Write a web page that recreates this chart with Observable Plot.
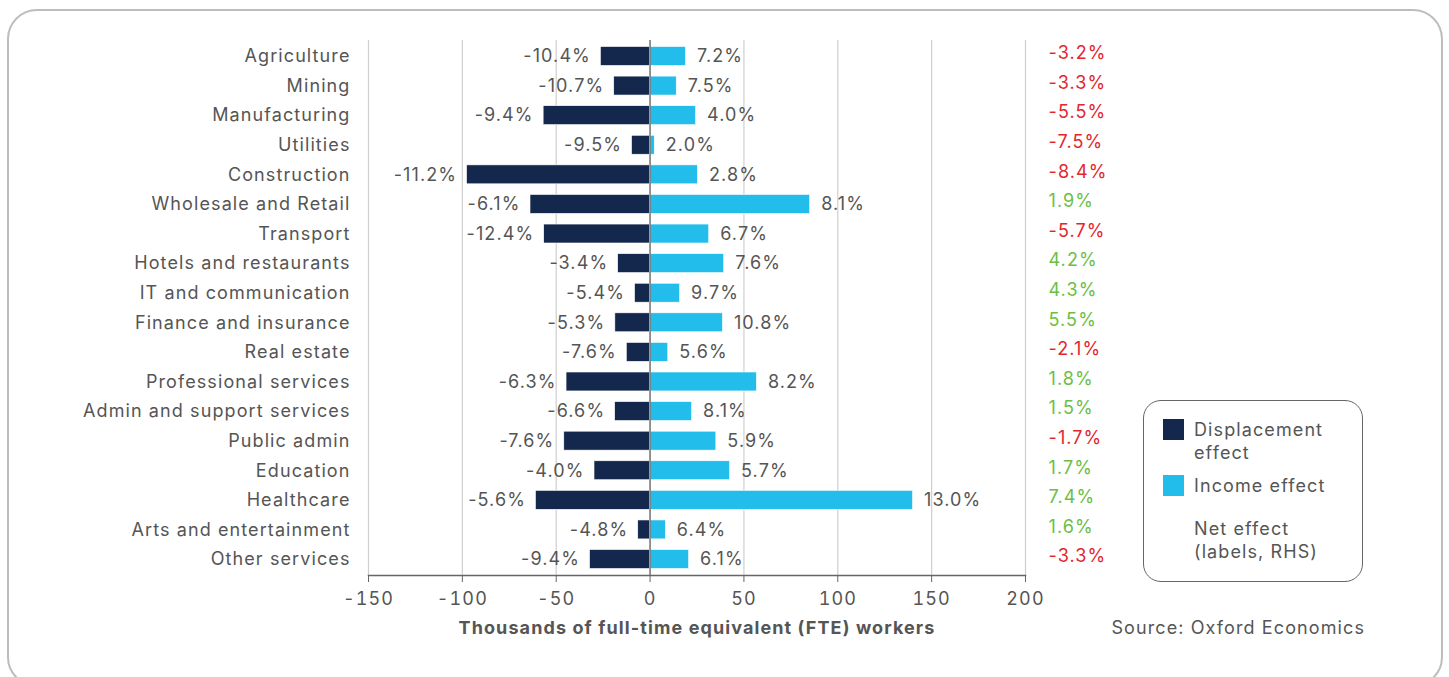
<!DOCTYPE html>
<html>
<head>
<meta charset="utf-8">
<script src="https://cdn.jsdelivr.net/npm/d3@7"></script>
<script src="https://cdn.jsdelivr.net/npm/@observablehq/plot@0.6"></script>
<style>
  html, body { margin: 0; padding: 0; background: #fff; overflow: hidden; }
  body { width: 1449px; height: 677px; position: relative; font-family: Inter, "Noto Sans", sans-serif; color: #555; letter-spacing: 1.1px; }
  #frame { position: absolute; left: 7px; top: 9px; width: 1432px; height: 674px; border: 2px solid #bdbdbd; border-radius: 30px; }
  #chart { position: absolute; left: 0; top: 0; }
  #chart svg text { letter-spacing: 1.1px; }
  #legend { position: absolute; left: 1143px; top: 400px; width: 218px; height: 180px; border: 1.5px solid #666; border-radius: 18px; font-size: 18px; line-height: 23px; }
  .item { position: absolute; left: 19px; display: flex; align-items: flex-start; }
  .sw { width: 21px; height: 21px; margin-right: 10px; margin-top: 1px; flex: none; }
  #source { position: absolute; right: 84px; top: 617px; font-size: 18px; }
</style>
</head>
<body>
<div id="frame"></div>
<div id="chart"></div>
<div id="legend"></div>
<div id="source">Source: Oxford Economics</div>
<script>
const sectors = ["Agriculture", "Mining", "Manufacturing", "Utilities", "Construction", "Wholesale and Retail", "Transport", "Hotels and restaurants", "IT and communication", "Finance and insurance", "Real estate", "Professional services", "Admin and support services", "Public admin", "Education", "Healthcare", "Arts and entertainment", "Other services"];
const displacement = [-26.2, -19.1, -56.7, -9.6, -97.5, -63.7, -56.4, -17.0, -8.0, -18.5, -12.4, -44.5, -18.6, -45.7, -29.6, -60.8, -6.3, -32.0];
const income = [19.1, 14.2, 24.5, 2.5, 25.5, 85.3, 31.5, 39.5, 16.0, 38.8, 9.7, 56.9, 22.4, 35.3, 42.6, 140.1, 8.4, 20.8];
const displacementLabels = ["-10.4%", "-10.7%", "-9.4%", "-9.5%", "-11.2%", "-6.1%", "-12.4%", "-3.4%", "-5.4%", "-5.3%", "-7.6%", "-6.3%", "-6.6%", "-7.6%", "-4.0%", "-5.6%", "-4.8%", "-9.4%"];
const incomeLabels = ["7.2%", "7.5%", "4.0%", "2.0%", "2.8%", "8.1%", "6.7%", "7.6%", "9.7%", "10.8%", "5.6%", "8.2%", "8.1%", "5.9%", "5.7%", "13.0%", "6.4%", "6.1%"];
const netLabels = ["-3.2%", "-3.3%", "-5.5%", "-7.5%", "-8.4%", "1.9%", "-5.7%", "4.2%", "4.3%", "5.5%", "-2.1%", "1.8%", "1.5%", "-1.7%", "1.7%", "7.4%", "1.6%", "-3.3%"];
const netEffect = [-3.2, -3.3, -5.5, -7.5, -8.4, 1.9, -5.7, 4.2, 4.3, 5.5, -2.1, 1.8, 1.5, -1.7, 1.7, 7.4, 1.6, -3.3];
const xTicks = [-150, -100, -50, 0, 50, 100, 150, 200];
const seriesNames = ["Displacement effect", "Income effect"];
const seriesColors = ["#14284d", "#22bdeb"];
const netColors = {neg: "#e3262d", pos: "#6cbe45"};

const rows = sectors.map((s, i) => ({
  sector: s, disp: displacement[i], inc: income[i],
  dLab: displacementLabels[i], iLab: incomeLabels[i], nLab: netLabels[i], net: netEffect[i]
}));

const textColor = "#555";
const chart = Plot.plot({
  width: 1449,
  height: 660,
  marginLeft: 368,
  marginRight: 424,
  marginTop: 40,
  marginBottom: 85,
  style: {fontFamily: "Inter, 'Noto Sans', sans-serif", fontSize: "18px", color: textColor, background: "transparent"},
  x: {domain: [-150, 200], ticks: xTicks},
  y: {domain: sectors, paddingInner: 0.36, paddingOuter: 0.22, round: false},
  marks: [
    Plot.gridX(xTicks, {stroke: "#cfcfcf", strokeOpacity: 1, strokeWidth: 1.2}),
    Plot.barX(rows, {x: "disp", y: "sector", fill: seriesColors[0], stroke: "#ffffff", strokeWidth: 0.6}),
    Plot.barX(rows, {x: "inc", y: "sector", fill: seriesColors[1], stroke: "#ffffff", strokeWidth: 0.6}),
    Plot.ruleX([0], {stroke: "#7a7a7a", strokeWidth: 1.5}),
    Plot.text(rows, {x: "disp", y: "sector", text: "dLab", textAnchor: "end", dx: -10, fill: textColor, fontSize: 18}),
    Plot.text(rows, {x: "inc", y: "sector", text: "iLab", textAnchor: "start", dx: 11, fill: textColor, fontSize: 18}),
    Plot.text(rows, {y: "sector", text: "nLab", frameAnchor: "right", textAnchor: "start", dx: 23, dy: -3, fill: d => d.net < 0 ? netColors.neg : netColors.pos, fontSize: 18}),
    Plot.axisY({tickSize: 0, tickPadding: 18, label: null, fill: textColor, fontSize: 18}),
    Plot.axisX({ticks: xTicks, tickSize: 7, tickPadding: 10, stroke: "#666", tickFormat: d => String(d), label: "Thousands of full-time equivalent (FTE) workers", labelAnchor: "center", labelArrow: "none", labelOffset: 58, fill: textColor, fontSize: 18}),
    Plot.frame({anchor: "bottom", stroke: "#666", strokeWidth: 1.5})
  ]
});
chart.querySelectorAll('g[aria-label="x-axis label"] text').forEach(t => { t.setAttribute("font-weight", "bold"); t.style.fontWeight = "bold"; });
document.getElementById("chart").appendChild(chart);

const legend = document.getElementById("legend");
const items = [
  {html: "Displacement<br>effect", color: seriesColors[0], top: 17},
  {html: "Income effect", color: seriesColors[1], top: 73},
  {html: "Net effect<br>(labels, RHS)", color: null, top: 116}
];
items.forEach(it => {
  const d = document.createElement("div");
  d.className = "item";
  d.style.top = it.top + "px";
  const sw = document.createElement("div");
  sw.className = "sw";
  sw.style.background = it.color || "transparent";
  const t = document.createElement("div");
  t.innerHTML = it.html;
  d.appendChild(sw); d.appendChild(t);
  legend.appendChild(d);
});
</script>
</body>
</html>
